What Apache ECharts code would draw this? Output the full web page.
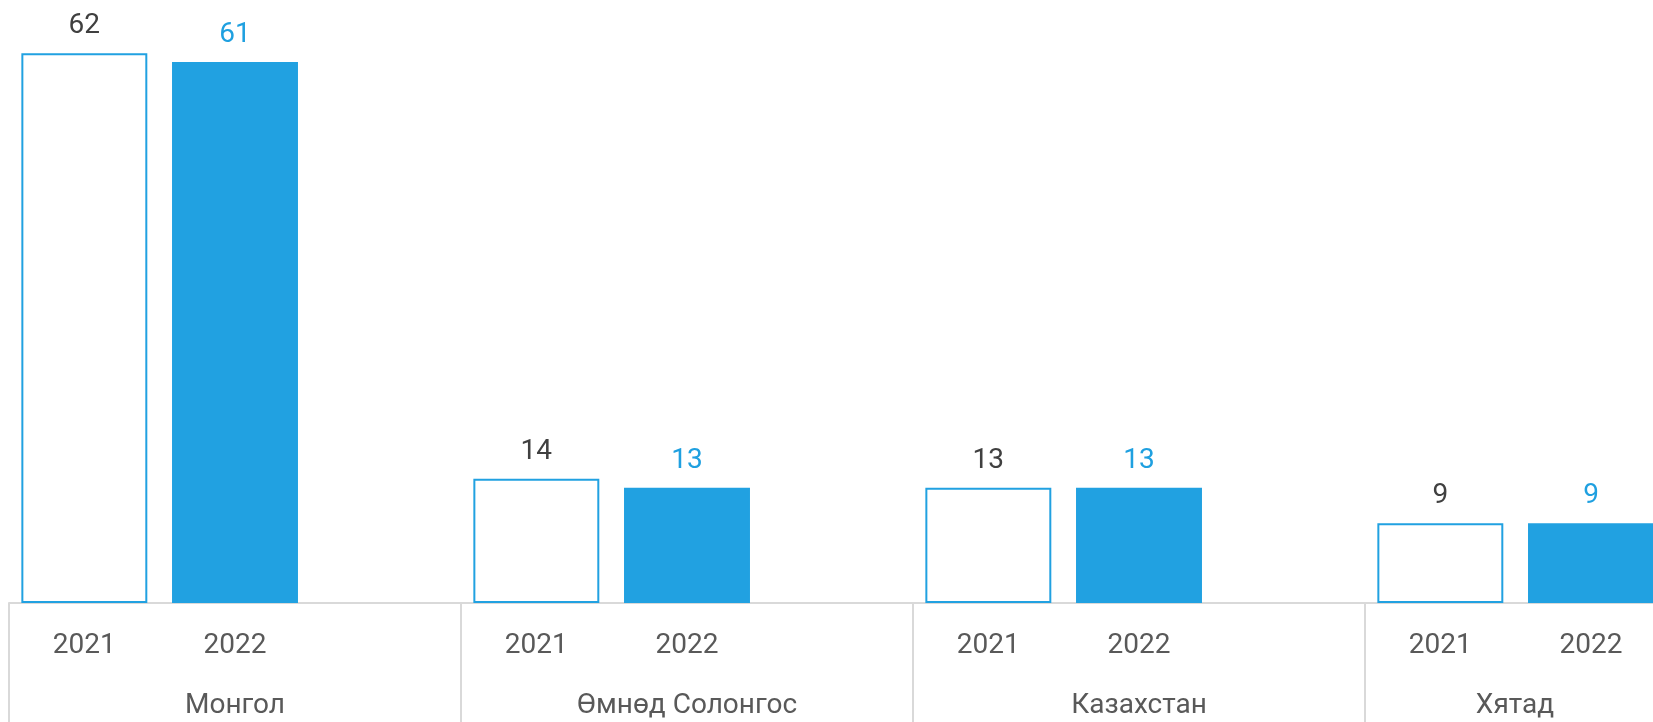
<!DOCTYPE html>
<html>
<head>
<meta charset="utf-8">
<script src="https://cdn.jsdelivr.net/npm/echarts@6/dist/echarts.min.js"></script>
<style>
html,body{margin:0;padding:0;background:#fff;overflow:hidden;width:1653px;height:722px;}
#c{width:1820px;height:722px;}
</style>
</head>
<body>
<div id="c"></div>
<script>
const countries = ['Монгол', 'Өмнөд Солонгос', 'Казахстан', 'Хятад'];
const years = ['2021', '2022'];
const values2021 = [62, 14, 13, 9];
const values2022 = [61, 13, 13, 9];

// each country group has 3 slots: 2021, 2022, empty spacer
const slotLabels = [];
const data2021 = [];
const data2022 = [];
countries.forEach((c, i) => {
  slotLabels.push(years[0], years[1], '');
  data2021.push(values2021[i], '-', '-');
  data2022.push('-', values2022[i], '-');
});

// last group is clipped by the page edge; its label is centred in the visible part
const countryAxisData = countries.map((c, i) =>
  i === countries.length - 1 ? {value: c, textStyle: {padding: [0, 152, 0, 0]}} : c
);

const blue = '#21a1e1';
const font = 'Roboto';
const chart = echarts.init(document.getElementById('c'), null, {renderer: 'canvas'});
chart.setOption({
  animation: false,
  backgroundColor: '#fff',
  grid: {left: 9, right: 3, top: 0, bottom: 119, containLabel: false},
  xAxis: [
    {
      type: 'category',
      data: slotLabels,
      position: 'bottom',
      axisLine: {show: false},
      axisTick: {show: false},
      axisLabel: {color: '#595959', fontFamily: font, fontSize: 28, margin: 29, interval: 0}
    },
    {
      type: 'category',
      data: countryAxisData,
      position: 'bottom',
      axisLine: {show: true, lineStyle: {color: '#d9d9d9', width: 2}},
      axisTick: {show: true, length: 125, lineStyle: {color: '#d9d9d9', width: 2}},
      axisLabel: {color: '#595959', fontFamily: font, fontSize: 28, margin: 89, interval: 0}
    }
  ],
  yAxis: {type: 'value', min: 0, max: 68, show: false, splitLine: {show: false}},
  series: [
    {
      name: years[0],
      type: 'bar',
      xAxisIndex: 0,
      data: data2021,
      barWidth: '83.6%',
      barGap: '-100%',
      itemStyle: {color: '#fff', borderColor: blue, borderWidth: 2},
      label: {show: true, position: 'top', distance: 13, color: '#404040', fontFamily: font, fontSize: 28}
    },
    {
      name: years[1],
      type: 'bar',
      xAxisIndex: 0,
      data: data2022,
      barWidth: '83.6%',
      barGap: '-100%',
      itemStyle: {color: blue},
      label: {show: true, position: 'top', distance: 13, color: '#1fa0e0', fontFamily: font, fontSize: 28}
    }
  ]
});
</script>
</body>
</html>
